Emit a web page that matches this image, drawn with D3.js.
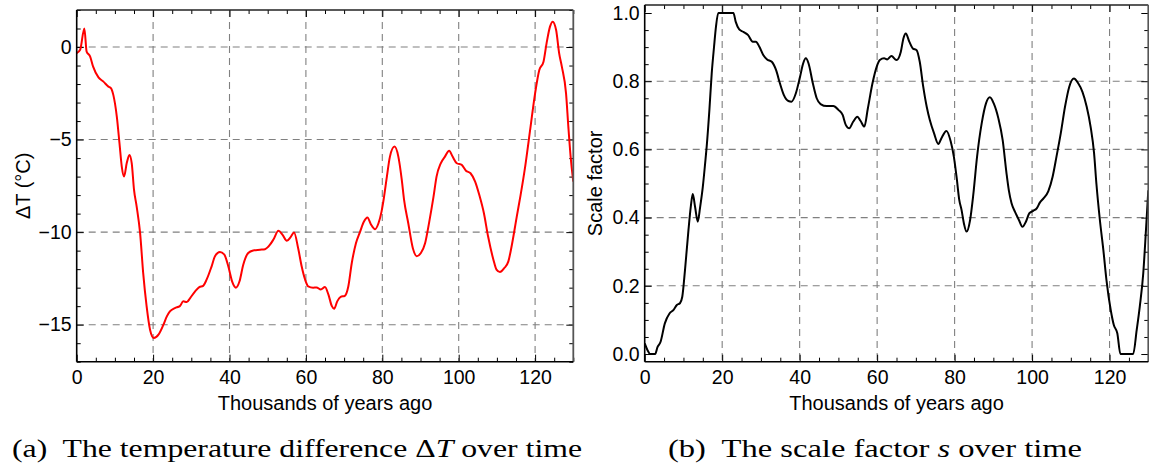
<!DOCTYPE html>
<html><head><meta charset="utf-8">
<script src="https://cdn.jsdelivr.net/npm/d3@7"></script>
<style>
html,body{margin:0;padding:0;background:#fff;}
svg{display:block;}
svg text{font-family:"Liberation Sans","Arimo",Arial,Helvetica,sans-serif;}
svg text.cap, svg text.cap tspan{font-family:"Liberation Serif","Tinos","Times New Roman",Times,serif;}
</style></head>
<body>
<svg id="chart" width="1149" height="470"></svg>
<script>
const tempYears = [0,0.9,2.0,2.6,3.5,4.3,5.7,7.0,8.3,9.0,9.6,10.5,11.2,11.8,12.4,13.1,13.8,14.4,15.0,15.7,16.6,17.4,18.3,19.2,20.2,21.4,22.7,23.6,24.4,25.7,27.0,27.9,28.8,29.7,31.0,32.1,33.1,34.0,35.3,36.2,37.5,38.6,39.7,40.7,41.7,42.6,43.6,44.9,46.2,48.0,49.3,50.6,51.5,52.8,53.9,55.0,56.0,56.9,58.0,58.9,59.8,60.6,61.9,62.8,63.9,65.0,65.9,66.8,67.4,68.2,69.1,70.2,71.1,72.0,73.1,74.2,75.2,76.1,77.0,78.1,79.0,79.8,80.4,81.2,82.0,83.2,84.2,85.1,85.7,86.8,88.0,89.0,90.1,91.2,92.3,93.4,94.2,95.3,96.4,97.5,98.4,99.5,100.8,101.9,103.1,104.3,105.4,106.6,107.7,109.1,109.9,110.8,111.9,113.0,114.0,115.2,116.2,117.4,118.7,120.0,121.1,122.2,123.0,123.9,124.6,125.5,126.3,127.0,128.1,128.7,129.3,130.0];
const tempValues = [-0.33,-0.15,1.0,-0.25,-0.5,-1.06,-1.64,-1.87,-2.14,-2.23,-2.6,-3.76,-5.2,-6.46,-7.0,-6.27,-5.83,-6.27,-7.7,-8.62,-10.05,-12.2,-14.0,-15.27,-15.72,-15.54,-15.0,-14.55,-14.28,-14.1,-14.0,-13.74,-13.78,-13.56,-13.2,-12.97,-12.9,-12.57,-11.86,-11.3,-11.08,-11.2,-11.86,-12.67,-13.0,-12.67,-11.76,-11.13,-10.99,-10.95,-10.92,-10.68,-10.4,-9.93,-10.15,-10.47,-10.27,-10.02,-10.9,-11.86,-12.57,-12.93,-13.0,-12.99,-13.1,-12.97,-13.38,-14.0,-14.14,-13.74,-13.5,-13.44,-12.94,-11.68,-10.6,-9.97,-9.43,-9.21,-9.57,-9.84,-9.52,-8.89,-8.17,-7.0,-5.92,-5.38,-5.92,-7.18,-8.26,-9.52,-10.87,-11.3,-11.13,-10.6,-9.43,-8.1,-7.0,-6.28,-5.92,-5.6,-5.92,-6.28,-6.37,-6.68,-6.82,-7.27,-8.0,-8.98,-10.24,-11.5,-12.03,-12.16,-11.95,-11.58,-10.6,-9.16,-8.0,-6.46,-4.48,-2.5,-1.24,-0.79,0.2,1.1,1.37,0.92,-0.34,-1.06,-2.5,-4.3,-5.92,-7.27];

const scaleYears = [0,0.7,1.4,2.7,3.3,4.1,5.2,6.4,7.4,8.3,9.1,9.7,10.4,11.3,11.9,12.4,13.0,13.7,14.3,15.0,15.6,16.0,16.7,17.3,17.9,18.4,19.0,22.9,23.5,24.4,25.4,26.7,27.9,28.7,29.6,30.6,31.6,32.8,33.9,34.9,35.9,37.1,37.9,39.0,40.1,40.9,41.6,42.3,43.4,44.4,45.4,47.0,48.7,50.0,51.1,51.9,52.8,53.8,54.9,55.7,56.7,57.6,58.8,59.9,60.7,61.8,62.6,63.7,65.0,66.1,66.8,67.4,68.3,69.2,70.2,71.0,71.9,72.8,73.6,74.7,75.8,76.6,77.9,79.0,79.8,80.5,81.2,81.8,82.4,83.1,84.0,84.8,85.8,87.0,88.1,89.1,90.1,91.3,92.4,93.4,94.0,94.7,95.6,96.6,97.5,98.4,99.3,100.3,101.2,102.0,103.0,104.2,105.3,106.3,107.4,108.5,109.6,110.8,111.9,113.0,114.1,115.1,116.0,116.6,117.5,118.4,119.2,120.3,121.1,122.0,122.8,126.1,127.0,127.8,128.7,129.4,130.0];
const scaleValues = [0.031,0.012,0.0,0.0,0.02,0.036,0.09,0.119,0.129,0.144,0.149,0.168,0.246,0.364,0.432,0.469,0.432,0.388,0.43,0.49,0.559,0.608,0.716,0.823,0.901,0.96,1.0,1.0,0.974,0.952,0.945,0.935,0.916,0.916,0.901,0.877,0.864,0.857,0.833,0.794,0.76,0.742,0.74,0.764,0.813,0.852,0.867,0.852,0.794,0.75,0.733,0.727,0.727,0.716,0.701,0.672,0.662,0.681,0.696,0.684,0.667,0.72,0.794,0.843,0.862,0.867,0.864,0.874,0.862,0.886,0.926,0.94,0.916,0.896,0.891,0.857,0.784,0.725,0.686,0.647,0.616,0.633,0.654,0.623,0.579,0.52,0.452,0.422,0.383,0.359,0.393,0.465,0.579,0.677,0.735,0.753,0.735,0.691,0.628,0.53,0.48,0.442,0.417,0.393,0.373,0.388,0.413,0.42,0.427,0.444,0.457,0.478,0.52,0.579,0.647,0.725,0.784,0.808,0.794,0.769,0.725,0.667,0.589,0.5,0.393,0.305,0.217,0.129,0.085,0.061,0.0,0.0,0.07,0.139,0.237,0.364,0.48];

const xTicks = [0,20,40,60,80,100,120];
const xGrid = [20,40,60,80,100,120];
const tempTicks = [0,-5,-10,-15];
const scaleTicks = [0.0,0.2,0.4,0.6,0.8,1.0];
const scaleGrid = [0.2,0.4,0.6,0.8];

const svg = d3.select("#chart");

function panel(opts) {
  const {x0,x1,y0,y1,xDom,yDom,years,values,color,yTicks,yGrid,yMinorStep,yFmt,ylabel,ylabelX} = opts;
  const x = d3.scaleLinear().domain(xDom).range([x0,x1]);
  const y = d3.scaleLinear().domain(yDom).range([y1,y0]);
  const g = svg.append("g");

  g.selectAll(null).data(xGrid).join("line")
    .attr("x1",d=>x(d)).attr("x2",d=>x(d)).attr("y1",y0).attr("y2",y1)
    .attr("stroke","#808080").attr("stroke-width",1.1).attr("stroke-dasharray","7,5");
  g.selectAll(null).data(yGrid).join("line")
    .attr("y1",d=>y(d)).attr("y2",d=>y(d)).attr("x1",x0).attr("x2",x1)
    .attr("stroke","#808080").attr("stroke-width",1.1).attr("stroke-dasharray","7,5");

  const xMinor = d3.range(0,131,5).filter(v=>v%20!==0);
  const yMinor = [];
  for (let v = Math.ceil(yDom[0]/yMinorStep)*yMinorStep; v <= yDom[1]+1e-9; v += yMinorStep) {
    const r = Math.round(v*1000)/1000;
    if (!yTicks.some(t=>Math.abs(t-r)<1e-6)) yMinor.push(r);
  }
  function axis(gen, tr, vals, size, fmt) {
    const a = g.append("g").attr("transform",tr)
      .call(gen.tickValues(vals).tickSize(size).tickSizeOuter(0).tickFormat(fmt));
    a.attr("font-family",null);
    a.select(".domain").remove();
    a.selectAll("line").attr("stroke","#000").attr("stroke-width",1);
    a.selectAll("text").style("font-size","19.5px").attr("fill","#000");
    return a;
  }
  const blank = () => "";
  const bx = axis(d3.axisBottom(x), `translate(0,${y1})`, xTicks, -7, d3.format("d"));
  bx.selectAll("text").attr("dy",null).attr("y",22.5);
  axis(d3.axisBottom(x), `translate(0,${y1})`, xMinor, -4, blank);
  axis(d3.axisTop(x), `translate(0,${y0})`, xTicks, -7, blank);
  axis(d3.axisTop(x), `translate(0,${y0})`, xMinor, -4, blank);
  const ly = axis(d3.axisLeft(y), `translate(${x0},0)`, yTicks, -7, yFmt);
  ly.selectAll("text").attr("x",-5);
  axis(d3.axisLeft(y), `translate(${x0},0)`, yMinor, -4, blank);
  axis(d3.axisRight(y), `translate(${x1},0)`, yTicks, -7, blank);
  axis(d3.axisRight(y), `translate(${x1},0)`, yMinor, -4, blank);

  const clipId = "clip" + Math.round(x0);
  svg.append("clipPath").attr("id",clipId).append("rect")
    .attr("x",x0).attr("y",y0).attr("width",x1-x0).attr("height",y1-y0);
  const pts = years.map((t,i)=>[t,values[i]]);
  g.append("path").datum(pts)
    .attr("clip-path",`url(#${clipId})`)
    .attr("fill","none").attr("stroke",color).attr("stroke-width",2)
    .attr("stroke-linejoin","round")
    .attr("d", d3.line().x(d=>x(d[0])).y(d=>y(d[1])).curve(d3.curveMonotoneX));

  g.append("line").attr("x1",x0).attr("x2",x1).attr("y1",y0).attr("y2",y0).attr("stroke","#222").attr("stroke-width",1.5);
  g.append("line").attr("x1",x1).attr("x2",x1).attr("y1",y0).attr("y2",y1).attr("stroke","#555").attr("stroke-width",1.8);
  g.append("line").attr("x1",x0).attr("x2",x1).attr("y1",y1).attr("y2",y1).attr("stroke","#000").attr("stroke-width",1.6);
  g.append("line").attr("x1",x0).attr("x2",x0).attr("y1",y0).attr("y2",y1).attr("stroke","#000").attr("stroke-width",1.6);

  g.append("text").attr("x",(x0+x1)/2).attr("y",410).attr("text-anchor","middle")
    .style("font-size","20px").attr("fill","#000")
    .text("Thousands of years ago");
  g.append("text").attr("transform",`translate(${ylabelX},${(y0+y1)/2}) rotate(-90)`)
    .attr("text-anchor","middle").style("font-size","20px").attr("fill","#000")
    .text(ylabel);
}

panel({x0:76.7,x1:573.3,y0:10,y1:361.7,xDom:[0,130],yDom:[-17,2],years:tempYears,values:tempValues,
  color:"#ff0000",yTicks:tempTicks,yGrid:tempTicks,yMinorStep:1,yFmt:d3.format("d"),ylabel:"ΔT (°C)",ylabelX:30});
panel({x0:644.7,x1:1148.3,y0:5,y1:361.7,xDom:[0,130],yDom:[-0.0225,1.0235],years:scaleYears,values:scaleValues,
  color:"#000000",yTicks:scaleTicks,yGrid:scaleGrid,yMinorStep:0.05,yFmt:d3.format(".1f"),ylabel:"Scale factor",ylabelX:602});

const capA = svg.append("text").attr("class","cap").attr("x",12).attr("y",457).style("font-size","26px")
  .attr("fill","#000").attr("textLength",570).attr("lengthAdjust","spacingAndGlyphs");
capA.append("tspan").text("(a)\u00a0 The temperature difference Δ");
capA.append("tspan").attr("font-style","italic").text("T");
capA.append("tspan").text(" over time");
const capB = svg.append("text").attr("class","cap").attr("x",668).attr("y",457).style("font-size","26px")
  .attr("fill","#000").attr("textLength",414).attr("lengthAdjust","spacingAndGlyphs");
capB.append("tspan").text("(b)\u00a0 The scale factor ");
capB.append("tspan").attr("font-style","italic").text("s");
capB.append("tspan").text(" over time");
</script>
</body></html>
